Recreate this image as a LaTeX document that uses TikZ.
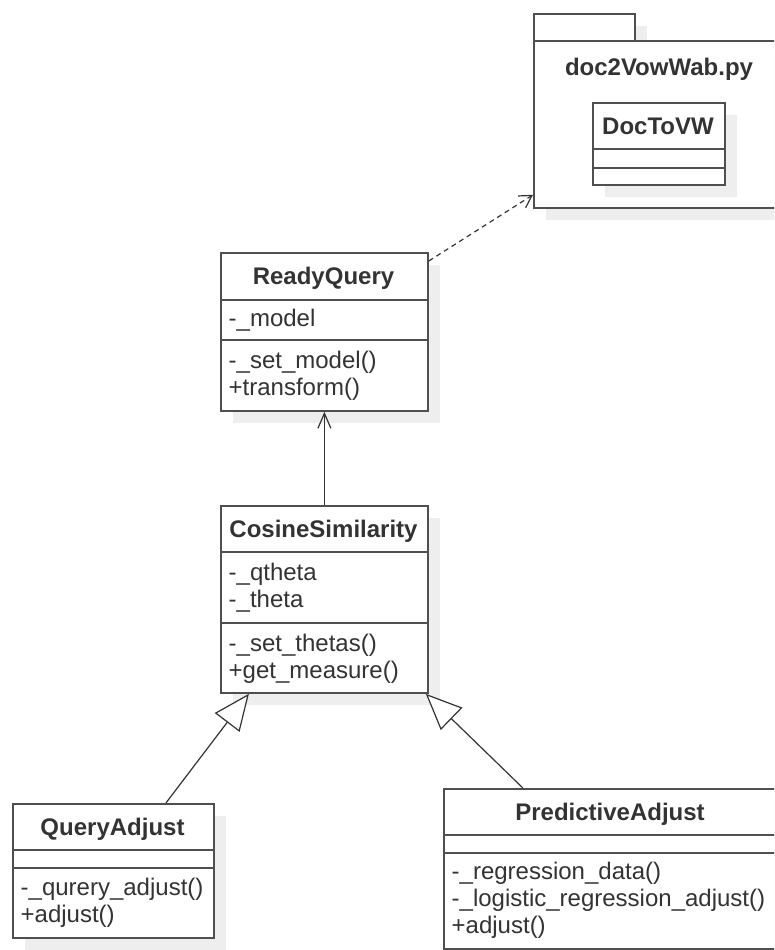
\documentclass[tikz,border=0pt]{standalone}
\usepackage{fontspec}
\setmainfont{Liberation Sans}
\usetikzlibrary{arrows.meta,shadows}

\definecolor{umlline}{HTML}{4F4F4F}
\definecolor{umltext}{HTML}{333333}
\definecolor{umlshadow}{HTML}{EEEEEE}

\tikzset{
  umlbox/.style={rectangle, draw=umlline, line width=1.8pt, fill=white,
    inner sep=0pt, anchor=north west,
    drop shadow={shadow xshift=12pt, shadow yshift=-12pt, fill=umlshadow, opacity=1}},
  sep/.style={draw=umlline, line width=1.8pt},
  umltitle/.style={inner sep=0pt, anchor=base, text=umltext,
    font={\fontsize{24}{28}\selectfont\bfseries}},
  member/.style={inner sep=0pt, anchor=base west, text=umltext,
    font={\fontsize{24}{28}\selectfont}},
  link/.style={draw=umltext, line width=1.2pt},
  assoc/.style={link, -{Straight Barb[length=15pt, width=13pt, line width=1.2pt]}},
  gen/.style={link, -{Triangle[open, length=36pt, width=31pt, fill=white, line width=1.2pt]}},
  dep/.style={link, dash pattern=on 5pt off 4pt,
    -{Straight Barb[length=12pt, width=14pt, line width=1.2pt]}},
}

\begin{document}
\begin{tikzpicture}[x=1pt, y=-1pt]
  \useasboundingbox (0,0) rectangle (774,950);
  \clip (0,0) rectangle (774,950);

  % package doc2VowWab.py
  \node[umlbox, minimum width=101pt, minimum height=27pt] (pkgtab) at (533,13) {};
  \node[umlbox, minimum width=252pt, minimum height=167pt] (pkg) at (533,40) {};
  \node[umltitle] (pkgname) at (659,75) {doc2VowWab.py};

  % class DocToVW inside the package
  \node[umlbox, minimum width=132pt, minimum height=82pt] (dv) at (592,102) {};
  \draw[sep] (dv.west |- 0,149) -- (dv.east |- 0,149);
  \draw[sep] (dv.west |- 0,168) -- (dv.east |- 0,168);
  \node[umltitle] (dvname) at (658,134) {DocToVW};

  % class ReadyQuery
  \node[umlbox, minimum width=207pt, minimum height=158pt] (rq) at (220,252) {};
  \draw[sep] (rq.west |- 0,300) -- (rq.east |- 0,300);
  \draw[sep] (rq.west |- 0,340) -- (rq.east |- 0,340);
  \node[umltitle] (rqname) at (323.5,284.6) {ReadyQuery};
  \node[member] (rqa1) at (228.5,326) {-\_model};
  \node[member] (rqm1) at (228.5,368) {-\_set\_model()};
  \node[member] (rqm2) at (228.5,395) {+transform()};

  % class CosineSimilarity
  \node[umlbox, minimum width=207pt, minimum height=187pt] (cs) at (220,505) {};
  \draw[sep] (cs.west |- 0,552) -- (cs.east |- 0,552);
  \draw[sep] (cs.west |- 0,623) -- (cs.east |- 0,623);
  \node[umltitle] (csname) at (323.5,537) {CosineSimilarity};
  \node[member] (csa1) at (228.5,580) {-\_qtheta};
  \node[member] (csa2) at (228.5,607) {-\_theta};
  \node[member] (csm1) at (228.5,651) {-\_set\_thetas()};
  \node[member] (csm2) at (228.5,678) {+get\_measure()};

  % class QueryAdjust
  \node[umlbox, minimum width=201pt, minimum height=134pt] (qa) at (12,803) {};
  \draw[sep] (qa.west |- 0,850) -- (qa.east |- 0,850);
  \draw[sep] (qa.west |- 0,868) -- (qa.east |- 0,868);
  \node[umltitle] (qaname) at (112.5,835) {QueryAdjust};
  \node[member] (qam1) at (20.5,895) {-\_qurery\_adjust()};
  \node[member] (qam2) at (20.5,922) {+adjust()};

  % class PredictiveAdjust
  \node[umlbox, minimum width=334pt, minimum height=160pt] (pa) at (443,788) {};
  \draw[sep] (pa.west |- 0,835) -- (pa.east |- 0,835);
  \draw[sep] (pa.west |- 0,853) -- (pa.east |- 0,853);
  \node[umltitle] (paname) at (610,820) {PredictiveAdjust};
  \node[member] (pam1) at (451.5,879) {-\_regression\_data()};
  \node[member] (pam2) at (451.5,906) {-\_logistic\_regression\_adjust()};
  \node[member] (pam3) at (451.5,933) {+adjust()};

  % relations
  \draw[dep] ([yshift=-9pt]rq.north east) -- ([yshift=14pt]pkg.south west);
  \draw[assoc] (cs.north) -- (rq.south);
  \draw[gen] ([xshift=52.5pt]qa.north) -- ([xshift=-75.5pt]cs.south);
  \draw[gen] ([xshift=-88pt]pa.north) -- ([xshift=-3pt]cs.south east);
\end{tikzpicture}
\end{document}
